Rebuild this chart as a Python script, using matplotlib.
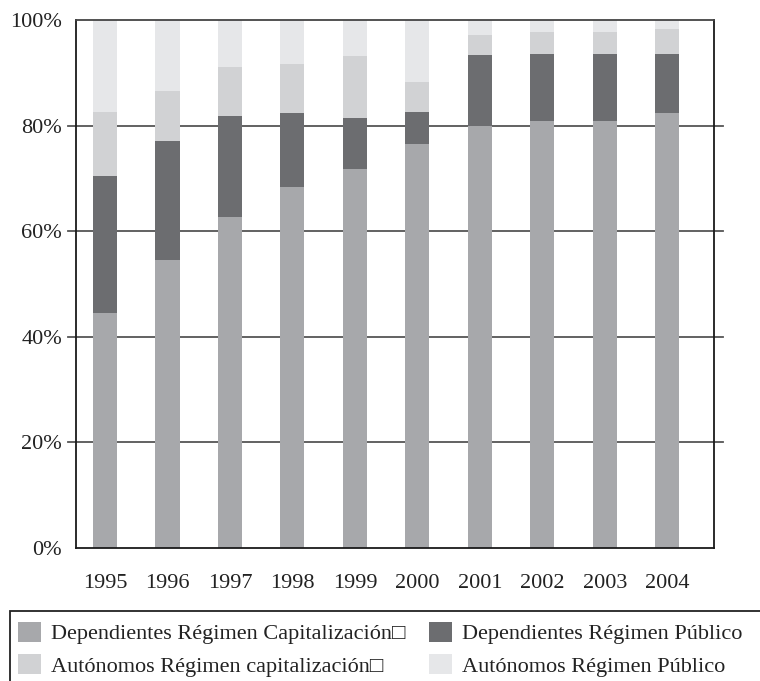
import matplotlib
matplotlib.use("Agg")
import matplotlib.pyplot as plt
from matplotlib.patches import Patch, Rectangle

plt.rcParams['font.family'] = ['Liberation Serif', 'DejaVu Serif']

years = ['1995', '1996', '1997', '1998', '1999', '2000', '2001', '2002', '2003', '2004']
dep_cap = [44.6, 54.6, 62.6, 68.4, 71.8, 76.6, 80.0, 80.9, 80.9, 82.4]
dep_pub = [25.8, 22.5, 19.3, 14.0, 9.7, 6.0, 13.4, 12.7, 12.7, 11.2]
aut_cap = [12.2, 9.5, 9.2, 9.3, 11.7, 5.7, 3.8, 4.2, 4.1, 4.7]
aut_pub = [17.4, 13.4, 8.9, 8.3, 6.8, 11.7, 2.8, 2.2, 2.3, 1.7]
labels = ['Dependientes Régimen Capitalización\u25a1', 'Dependientes Régimen Público',
          'Autónomos Régimen capitalización\u25a1', 'Autónomos Régimen Público']
yticks = [0, 20, 40, 60, 80, 100]

colors = ['#a7a8ab', '#6c6d70', '#d1d2d4', '#e6e7e9']
series = [dep_cap, dep_pub, aut_cap, aut_pub]

fig = plt.figure(figsize=(7.6, 6.81), dpi=100)
ax = fig.add_axes([76/760, 1-548/681, (714-76)/760, (548-20)/681])

x = list(range(len(years)))
bottom = [0.0]*len(years)
for vals, c in zip(series, colors):
    ax.bar(x, vals, width=0.385, bottom=bottom, color=c, zorder=2, linewidth=0)
    bottom = [b+v for b, v in zip(bottom, vals)]

ax.set_xlim(-0.465, 9.75)
ax.set_ylim(0, 100)
ax.set_yticks(yticks)
ax.set_yticklabels([f'{v}%' for v in yticks])
ax.set_xticks(x)
ax.set_xticklabels(years)
ax.tick_params(axis='both', length=0, labelsize=16, colors='#222222')
ax.tick_params(axis='y', pad=10)
ax.tick_params(axis='x', pad=19)

for v in yticks[1:-1]:
    ax.plot([-0.013, 1.014], [v, v], transform=ax.get_yaxis_transform(),
            color='#555555', lw=1.3, clip_on=False, zorder=1)

for s in ax.spines.values():
    s.set_color('#1a1a1a')
    s.set_linewidth(1.3)
ax.spines['top'].set_color('#444444')

handles = [Patch(facecolor=c, edgecolor='none') for c in colors]
leg = fig.legend([handles[i] for i in [0, 2, 1, 3]], [labels[i] for i in [0, 2, 1, 3]],
                 ncol=2, frameon=False, loc='upper left',
                 bbox_to_anchor=(2/760, 1-606/681), fontsize=16,
                 handlelength=1.05, handleheight=1.05, handletextpad=0.45,
                 columnspacing=1.05, labelspacing=0.42, borderpad=0.2)
for t in leg.get_texts():
    t.set_color('#222222')

fig.patches.append(Rectangle((10/760, -0.05), 1.0, 1-611/681+0.05,
                             transform=fig.transFigure, fill=False,
                             edgecolor='#222222', lw=1.3))

fig.savefig('out.png', dpi=100)
